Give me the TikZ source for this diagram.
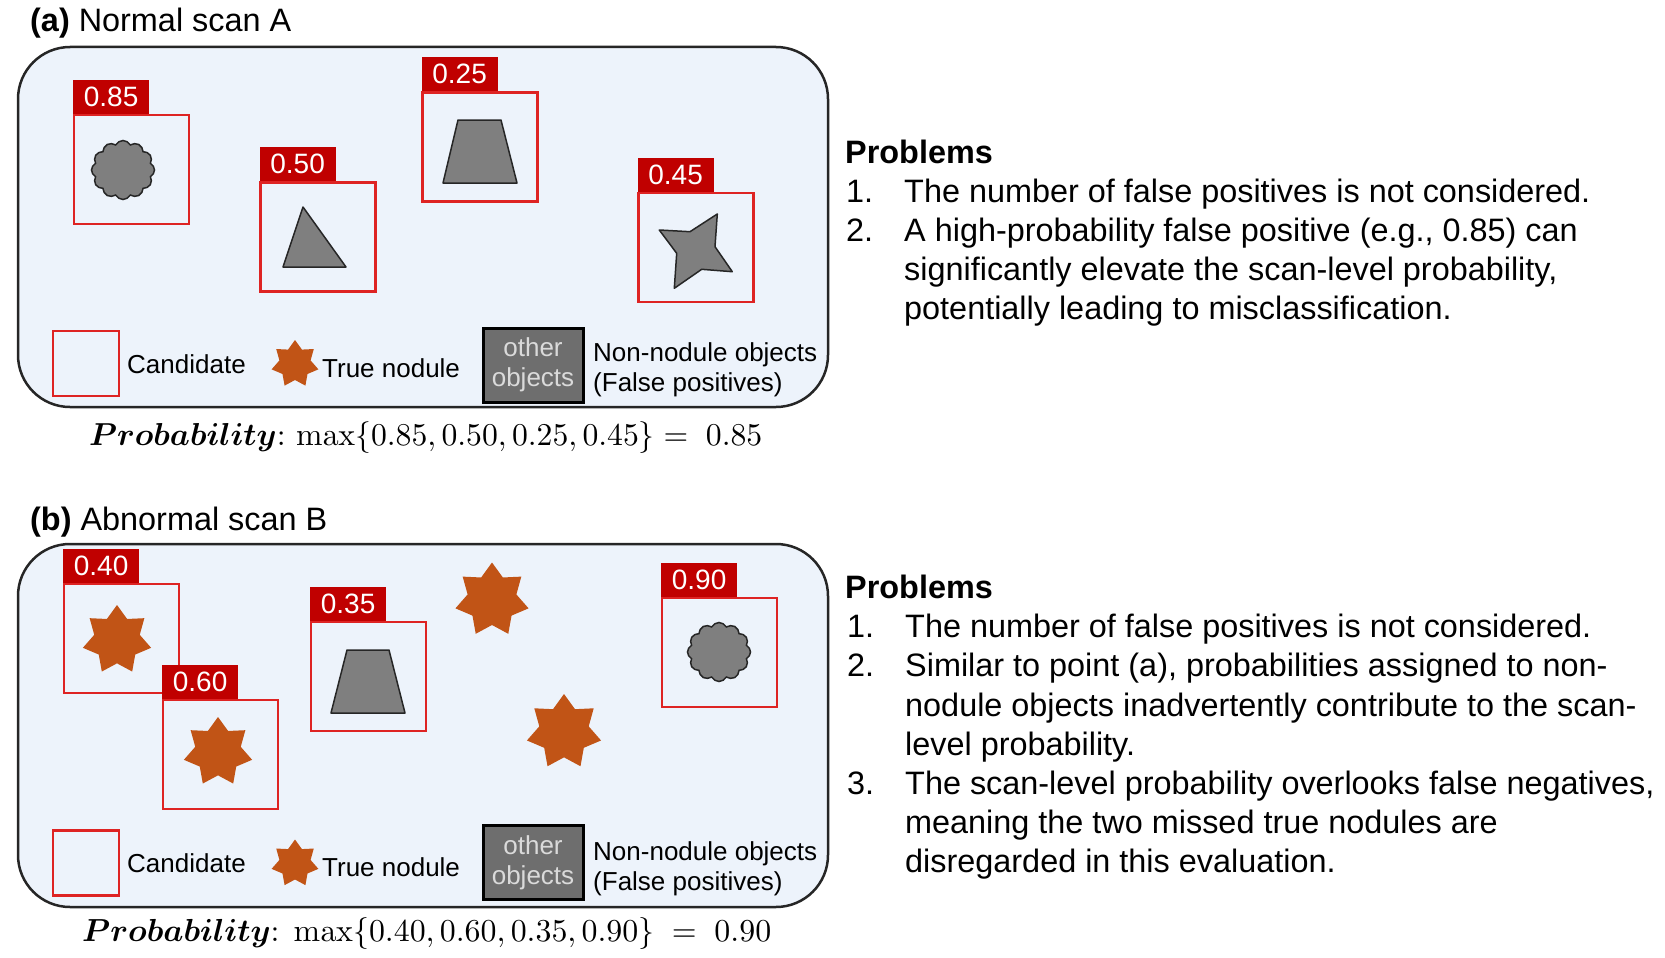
\documentclass[tikz,border=0pt]{standalone}
\usepackage[no-math]{fontspec}
\setmainfont{Liberation Sans}
\usepackage{amsmath,amsbsy,graphicx}
\usetikzlibrary{shapes.geometric,shapes.symbols}
\definecolor{bgblue}{RGB}{237,243,251}
\definecolor{labred}{RGB}{192,0,0}
\definecolor{boxred}{RGB}{222,35,35}
\definecolor{nodorange}{RGB}{193,84,22}
\definecolor{objgray}{RGB}{127,127,127}
\definecolor{objedge}{RGB}{38,38,38}
\definecolor{leggray}{RGB}{110,110,110}
\definecolor{legtext}{RGB}{218,218,218}
\tikzset{
 scanbox/.style={draw=black!85, line width=2.5pt, fill=bgblue, rounded corners=52pt, minimum width=810pt, inner sep=0pt},
 cand/.style={draw=boxred, line width=2.2pt, minimum width=115pt, minimum height=109pt, inner sep=0pt},
 lab/.style={fill=labred, text=white, minimum width=76pt, minimum height=34pt, inner sep=0pt, font=\fontsize{28}{30}\selectfont, anchor=south west},
 nod/.style={star, star points=7, star point ratio=1.5, fill=nodorange, inner sep=0pt, minimum size=70pt},
 obj/.style={fill=objgray, draw=objedge, line width=1.5pt, line join=round},
 cloudobj/.style={cloud, cloud puffs=12, cloud puff arc=125, aspect=1.07, minimum width=63pt, minimum height=59pt, inner sep=0pt, fill=objgray, draw=objedge, line width=1.5pt},
 paneltitle/.style={anchor=base west, font=\fontsize{32.4}{38}\selectfont, inner sep=0pt},
 ptxt/.style={anchor=base west, font=\fontsize{32.4}{38}\selectfont, inner sep=0pt},
 legtxt/.style={anchor=base west, font=\fontsize{26}{29}\selectfont, inner sep=0pt},
 legbox/.style={fill=leggray, draw=black, line width=3pt, minimum width=100pt, minimum height=74pt, inner sep=0pt, text=legtext, align=center, font=\fontsize{26}{30}\selectfont},
 formula/.style={anchor=base west, inner sep=0pt},
}
\begin{document}
\begin{tikzpicture}[x=1pt,y=-1pt]
\useasboundingbox (0,0) rectangle (1665,958);
% ---------------- panel (a)
\node[paneltitle] (titleA) at (30,32) {\textbf{(a)} Normal scan A};
\node[scanbox, minimum height=360pt] (scanA) at (423,227) {};
\node[cand] (cA1) at (131.5,169.5) {};
\node[lab] (lA1) at (cA1.north west) {0.85};
\node[cloudobj] (oA1) at (123,170) {};
\node[cand] (cA2) at (318,237) {};
\node[lab] (lA2) at (cA2.north west) {0.50};
\draw[obj] (303,207) -- (283,267) -- (346,267) -- cycle;
\node[cand] (cA3) at (480,147) {};
\node[lab] (lA3) at (cA3.north west) {0.25};
\draw[obj] (458,120) -- (501,120) -- (517,183) -- (443,183) -- cycle;
\node[cand] (cA4) at (696,247.5) {};
\node[lab] (lA4) at (cA4.north west) {0.45};
\draw[obj] (659.3,230) -- (690,231.7) -- (717.3,214) -- (715,246.7) -- (732.3,271.7) -- (701.7,269.3) -- (674.3,288.3) -- (676.7,253.3) -- cycle;
% legend (a)
\node[cand, minimum width=66pt, minimum height=65pt] (legcA) at (86,363.5) {};
\node[legtxt] (legcAt) at (127,373.5) {Candidate};
\node[nod, minimum size=48pt] (legnA) at (295,364) {};
\node[legtxt] (legnAt) at (322,377) {True nodule};
\node[legbox] (legoA) at (533,365) {other\\objects};
\node[legtxt] (legoAt1) at (593,361) {Non-nodule objects};
\node[legtxt] (legoAt2) at (593,391) {(False positives)};
\node[formula] (probA) at (89,445) {\resizebox{673pt}{!}{$\boldsymbol{Probability}{:}\,\max\{0.85, 0.50, 0.25, 0.45\} =\ 0.85$}};
% problems (a)
\node[ptxt] (probsA) at (845,163) {\textbf{Problems}};
\node[ptxt] (pA1n) at (846,202.5) {1.};
\node[ptxt] (pA1) at (904,202.5) {The number of false positives is not considered.};
\node[ptxt] (pA2n) at (846,241.5) {2.};
\node[ptxt] (pA2a) at (904,241.5) {A high-probability false positive (e.g., 0.85) can};
\node[ptxt] (pA2b) at (904,280.5) {significantly elevate the scan-level probability,};
\node[ptxt] (pA2c) at (904,319.5) {potentially leading to misclassification.};
% ---------------- panel (b)
\node[paneltitle] (titleB) at (30,530) {\textbf{(b)} Abnormal scan B};
\node[scanbox, minimum height=363pt] (scanB) at (423,725.5) {};
\node[cand] (cB1) at (121.5,638.5) {};
\node[lab] (lB1) at (cB1.north west) {0.40};
\node[nod] (nB1) at (117,640) {};
\node[cand] (cB2) at (220.5,754.5) {};
\node[lab] (lB2) at (cB2.north west) {0.60};
\node[nod] (nB2) at (218,752) {};
\node[cand] (cB3) at (368.5,676.5) {};
\node[lab] (lB3) at (cB3.north west) {0.35};
\draw[obj] (347,650) -- (389,650) -- (405,713) -- (331,713) -- cycle;
\node[nod, minimum size=75pt] (nB3) at (492,600) {};
\node[nod, minimum size=76pt] (nB4) at (564,732) {};
\node[cand] (cB4) at (719.5,652.5) {};
\node[lab] (lB4) at (cB4.north west) {0.90};
\node[cloudobj] (oB4) at (719,652) {};
% legend (b)
\node[cand, minimum width=66pt, minimum height=65pt] (legcB) at (86,863) {};
\node[legtxt] (legcBt) at (127,872.5) {Candidate};
\node[nod, minimum size=48pt] (legnB) at (295,863.5) {};
\node[legtxt] (legnBt) at (322,876) {True nodule};
\node[legbox] (legoB) at (533,862.5) {other\\objects};
\node[legtxt] (legoBt1) at (593,860) {Non-nodule objects};
\node[legtxt] (legoBt2) at (593,890) {(False positives)};
\node[formula] (probB) at (82,941) {\resizebox{689pt}{!}{$\boldsymbol{Probability}{:}\ \max\{0.40, 0.60, 0.35, 0.90\}\ =\ 0.90$}};
% problems (b)
\node[ptxt] (probsB) at (845,598) {\textbf{Problems}};
\node[ptxt] (pB1n) at (847,637) {1.};
\node[ptxt] (pB1) at (905,637) {The number of false positives is not considered.};
\node[ptxt] (pB2n) at (847,676.5) {2.};
\node[ptxt] (pB2a) at (905,676.5) {Similar to point (a), probabilities assigned to non-};
\node[ptxt] (pB2b) at (905,716) {nodule objects inadvertently contribute to the scan-};
\node[ptxt] (pB2c) at (905,755) {level probability.};
\node[ptxt] (pB3n) at (847,794) {3.};
\node[ptxt] (pB3a) at (905,794) {The scan-level probability overlooks false negatives,};
\node[ptxt] (pB3b) at (905,833) {meaning the two missed true nodules are};
\node[ptxt] (pB3c) at (905,872) {disregarded in this evaluation.};
\end{tikzpicture}
\end{document}
